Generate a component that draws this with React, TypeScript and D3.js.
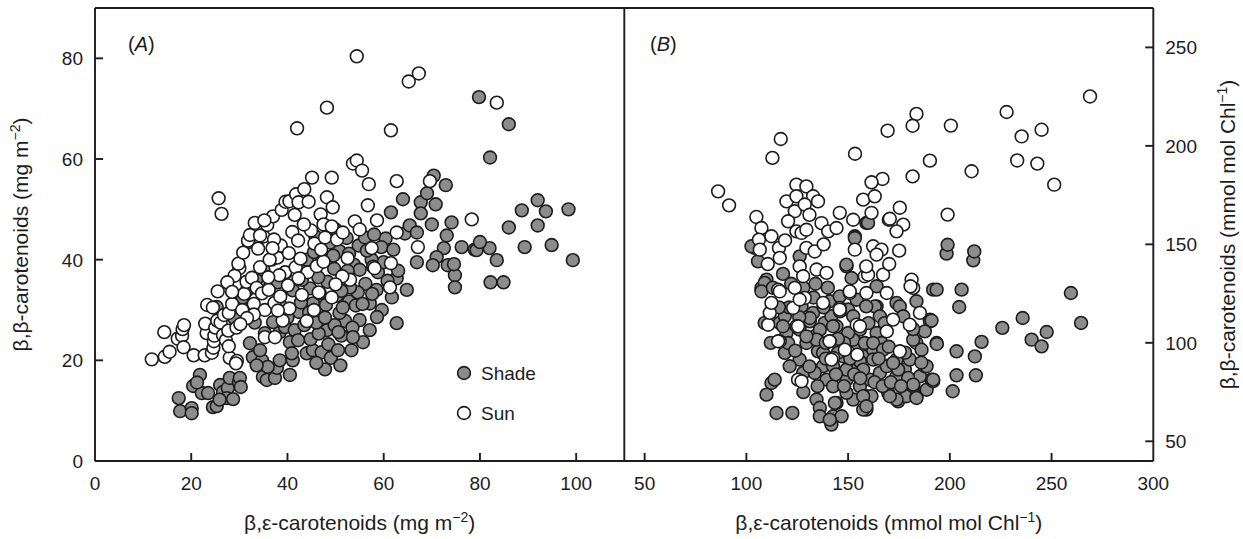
import React from "react";
import * as d3 from "d3";

// ---------- DATA ----------
// Panel A: mg m-2
const shadeA: [number, number][] = [
  [17.4, 12.5], [17.7, 9.9], [20.1, 10.5], [20.1, 9.5], [21.8, 17.1], [20.4, 14.9], [22.2, 13.5], [23.5, 13.5],
  [24.5, 10.7], [25.3, 10.9], [26.0, 15.1], [26.6, 13.7], [27.6, 14.5], [28.0, 16.5], [27.4, 12.5], [29.9, 15.7],
  [30.1, 16.5], [21.2, 15.6], [25.9, 12.2], [28.7, 12.3], [30.3, 14.7],
  [32.2, 23.4], [32.8, 20.6], [34.7, 20.0], [34.9, 16.7], [35.7, 16.1], [37.4, 16.5], [37.8, 18.5], [35.9, 18.7],
  [33.6, 19.0], [34.3, 22.0], [38.4, 20.0], [40.5, 17.1], [41.1, 20.0], [40.5, 23.6], [40.9, 21.4], [38.4, 25.6],
  [37.0, 27.6], [35.3, 25.4], [39.5, 26.6], [41.5, 26.0], [44.0, 21.4], [45.3, 22.0], [47.1, 21.6], [39.5, 37.3],
  [43.2, 38.5], [41.1, 33.9], [44.7, 34.3], [45.3, 31.3], [46.7, 33.3], [47.1, 29.4], [48.2, 26.0], [32.6, 30.6],
  [31.6, 33.9], [25.3, 30.6], [30.7, 32.5], [33.5, 36.0], [31.9, 43.5], [36.7, 40.0], [36.4, 34.8], [38.5, 31.0],
  [42.4, 29.6], [43.5, 27.0], [44.8, 24.2], [46.5, 25.3], [48.5, 23.2], [49.0, 20.5], [50.5, 22.0], [51.2, 24.9],
  [52.0, 27.8], [50.8, 29.4], [52.8, 31.7], [50.2, 32.8], [48.3, 35.6], [49.7, 38.2], [51.7, 36.3], [47.0, 40.8],
  [45.8, 44.6], [48.9, 43.4], [50.8, 41.7], [52.3, 44.3], [53.8, 39.0], [54.8, 42.8], [56.1, 44.4], [55.0, 38.0],
  [56.2, 35.2], [54.6, 33.5], [55.0, 28.0], [55.7, 23.6], [57.1, 26.0], [57.1, 31.3], [59.6, 30.0], [58.6, 28.6],
  [62.7, 27.4], [61.7, 32.5], [62.7, 36.3], [60.4, 44.2], [64.4, 45.2], [65.4, 46.8], [66.9, 45.4],
  [70.0, 47.0], [74.1, 47.4], [73.1, 44.8], [76.2, 42.5], [72.5, 42.3], [71.0, 40.5], [66.9, 39.5], [70.2, 38.9],
  [73.3, 38.9], [74.8, 36.9], [74.8, 34.5], [74.6, 39.1], [78.9, 42.0], [64.0, 52.0], [61.5, 49.4], [67.7, 51.4],
  [69.0, 53.2], [70.8, 51.0], [70.4, 56.7], [72.9, 54.8], [67.7, 49.2], [79.8, 72.3], [86.0, 66.9], [82.1, 60.3],
  [88.7, 49.8], [92.0, 51.8], [93.7, 49.6], [98.4, 50.0], [86.0, 46.4], [92.0, 46.8], [89.3, 42.5], [94.9, 42.9],
  [83.5, 39.9], [99.3, 39.9], [82.0, 42.3], [79.3, 41.9], [80.0, 43.5], [82.2, 35.5], [84.9, 35.5], [57.5, 40.0],
  [58.8, 37.5], [60.0, 39.5], [58.5, 34.0], [53.0, 34.5], [53.3, 22.0], [51.0, 19.0], [47.8, 18.2], [46.0, 27.5],
  [44.0, 40.0], [46.4, 36.5], [52.8, 41.2], [57.8, 38.6], [63.0, 37.8], [64.8, 34.0], [60.8, 35.8], [59.5, 42.5],
  [58.0, 45.0], [62.0, 42.0], [51.5, 30.5], [53.5, 26.5], [49.8, 27.0], [33.2, 27.5], [29.0, 28.3], [42.2, 24.0],
  [46.0, 19.5], [54.2, 30.9], [56.5, 41.8], [48.0, 31.0], [43.0, 36.0], [38.0, 35.5], [35.0, 38.0], [50.0, 46.0],
  [44.5, 29.5], [47.8, 28.5], [50.6, 25.6], [42.8, 31.5], [52.5, 37.8], [55.6, 31.2], [57.6, 33.2], [49.5, 40.8],
  [51.2, 33.8], [45.5, 41.5], [53.6, 24.6], [40.0, 28.5],
];

const sunA: [number, number][] = [
  [11.8, 20.2], [14.5, 20.7], [15.5, 21.7], [14.4, 25.6], [17.2, 24.3], [18.1, 24.9], [18.2, 26.2], [18.5, 27.0],
  [18.4, 22.6], [20.5, 21.0], [22.8, 21.0], [23.2, 25.4], [22.9, 27.3], [23.3, 31.0], [24.3, 21.5], [24.6, 22.5],
  [24.7, 23.8], [24.8, 24.9], [25.0, 26.5], [25.4, 27.9], [26.1, 27.5], [26.6, 25.0], [26.8, 29.0], [27.2, 24.0],
  [27.7, 25.9], [27.8, 29.4], [28.0, 20.5], [28.5, 31.2], [29.5, 19.9], [29.4, 26.5], [30.0, 38.3], [30.6, 30.0],
  [31.0, 33.2], [31.5, 35.6], [32.6, 36.4], [33.0, 31.2], [33.6, 34.4], [34.3, 38.5], [34.7, 33.3], [35.3, 30.0],
  [36.1, 34.0], [35.3, 24.6], [37.4, 24.6], [37.3, 31.4], [37.9, 40.4], [38.6, 42.8], [29.0, 36.8], [29.8, 39.2],
  [30.8, 41.4], [31.8, 43.8], [32.2, 44.9], [33.2, 47.3], [33.9, 42.2], [35.0, 44.6], [35.8, 46.9], [36.3, 40.0],
  [37.0, 48.6], [37.2, 44.0], [38.8, 49.9], [39.6, 51.5], [40.4, 51.6], [25.7, 52.2], [26.3, 49.1], [41.5, 48.9],
  [41.8, 53.0], [42.3, 51.4], [43.5, 54.0], [44.4, 51.5], [45.1, 56.3], [44.9, 45.8], [41.0, 45.5], [42.2, 43.8],
  [43.4, 47.0], [40.3, 41.3], [39.5, 37.5], [41.7, 38.5], [42.7, 40.2], [44.2, 37.5], [46.1, 38.7], [45.6, 43.2],
  [47.5, 39.6], [46.9, 49.0], [47.5, 47.0], [48.2, 52.4], [49.2, 56.3], [49.4, 50.4], [49.2, 46.6], [47.8, 44.4],
  [50.3, 44.0], [51.5, 45.4], [52.5, 40.3], [53.6, 59.1], [54.4, 59.7], [55.5, 57.7], [54.0, 47.6], [55.0, 46.0],
  [56.7, 50.8], [56.9, 55.0], [58.6, 47.8], [57.5, 42.3], [58.1, 38.3], [53.0, 36.0], [51.4, 36.7], [50.0, 35.1],
  [49.2, 32.5], [46.5, 33.5], [45.5, 30.0], [44.0, 27.8], [40.4, 30.3], [38.5, 32.7], [62.7, 55.6], [62.7, 45.4],
  [61.5, 39.3], [61.3, 34.5], [67.1, 42.5], [69.6, 55.6], [78.3, 48.0], [54.4, 80.4], [65.2, 75.4], [67.3, 77.0],
  [48.2, 70.2], [42.0, 66.1], [83.5, 71.2], [61.5, 65.7], [34.3, 44.8], [35.2, 47.8], [36.9, 42.3], [38.3, 36.9],
  [40.1, 34.9], [43.0, 33.0], [42.3, 36.3], [39.0, 27.9], [38.0, 29.9], [33.0, 29.1], [31.6, 28.4], [30.2, 27.2],
  [29.3, 19.4], [27.8, 22.8], [24.5, 30.5], [25.5, 33.7], [27.5, 35.5], [28.5, 33.6], [36.0, 36.5], [47.0, 42.0],
];

// Panel B: mmol mol Chl-1
const shadeB: [number, number][] = [
  [105.7, 141.4], [104.1, 148.2], [109.9, 132.1], [107.4, 127.9], [109.0, 110.1], [116.4, 110.1], [118.9, 113.5],
  [119.7, 105.0], [126.2, 91.5], [133.6, 103.3], [135.2, 95.7], [129.5, 99.9], [138.5, 110.1], [141.8, 113.5],
  [137.7, 88.1], [139.4, 81.3], [134.5, 71.2], [136.1, 67.0], [142.6, 62.7], [144.3, 69.5], [146.8, 62.7],
  [141.8, 58.5], [152.5, 71.2], [155.8, 77.9], [149.2, 81.3], [154.2, 86.4], [147.6, 93.1], [144.3, 108.4],
  [149.2, 138.8], [151.7, 132.9], [153.3, 154.1], [159.0, 160.9], [112.3, 79.6], [109.9, 73.7], [114.8, 64.4],
  [122.6, 64.4], [113.9, 81.3], [127.1, 118.5], [132.8, 115.2], [118.9, 94.9], [121.3, 88.1], [127.9, 84.7],
  [133.6, 84.7], [126.2, 106.7], [131.2, 110.9], [141.0, 121.1], [145.9, 123.6], [150.0, 116.9], [154.2, 99.9],
  [157.4, 93.1], [155.8, 106.7], [159.0, 72.9], [159.0, 66.1], [109.0, 130.4], [107.4, 126.1], [136.1, 62.7],
  [141.0, 61.0], [143.5, 69.5], [142.6, 77.9], [149.2, 74.6], [157.4, 66.1], [161.5, 72.9], [160.7, 81.3],
  [165.6, 84.7], [169.7, 74.6], [174.6, 70.3], [178.7, 72.9], [182.0, 77.9], [183.6, 72.9], [188.6, 76.2],
  [191.0, 81.3], [185.3, 83.0], [187.7, 88.1], [177.9, 86.4], [173.8, 83.0], [169.0, 88.1], [173.8, 91.5],
  [180.3, 91.5], [183.6, 99.9], [190.2, 111.8], [191.8, 127.0], [183.6, 121.1], [173.8, 120.3], [164.0, 118.5],
  [164.0, 128.7], [154.2, 121.9], [152.5, 113.5], [164.0, 105.0], [162.3, 96.5], [166.4, 99.9], [142.6, 108.4],
  [136.1, 106.7], [131.2, 112.6], [134.5, 101.6], [142.6, 88.1], [137.7, 94.9], [149.2, 86.4], [155.8, 90.6],
  [152.5, 101.6], [158.2, 99.9], [118.0, 108.4], [120.5, 99.9], [129.5, 103.3], [198.4, 145.3], [211.5, 141.9],
  [193.5, 127.0], [205.8, 127.0], [204.6, 118.2], [225.8, 107.6], [235.8, 112.6], [247.6, 105.5], [240.2, 101.6],
  [245.1, 98.2], [215.6, 100.5], [203.3, 95.7], [212.3, 93.1], [203.3, 83.5], [212.8, 83.5], [201.4, 75.4],
  [190.2, 110.9], [187.7, 105.8], [182.0, 101.6], [193.5, 99.9], [186.1, 96.5], [188.6, 88.1], [191.8, 80.5],
  [183.6, 72.0], [173.8, 71.2], [170.5, 72.9], [174.6, 86.4], [179.5, 82.2], [182.0, 78.8], [175.4, 118.5],
  [182.0, 107.0], [177.1, 113.5], [163.1, 118.5], [158.9, 118.5], [165.6, 113.5], [159.8, 160.9], [162.3, 99.9],
  [167.2, 96.5], [172.1, 89.8], [162.3, 91.5], [157.4, 86.4], [157.4, 72.9], [159.0, 67.8], [259.5, 125.3],
  [264.5, 110.1], [193.6, 99.4], [191.0, 111.3], [191.8, 81.3], [198.9, 149.8], [212.0, 146.4], [153.3, 153.2],
  [149.2, 139.7], [102.5, 149.0], [126.2, 143.9], [118.0, 135.0], [122.0, 130.0], [113.0, 128.0], [128.0, 128.0],
  [134.0, 130.0], [140.0, 128.0], [145.0, 95.0], [150.0, 105.0], [139.0, 100.0], [146.0, 116.0], [124.0, 96.0],
  [128.0, 75.0], [131.0, 88.0], [135.0, 78.0], [139.0, 92.0], [144.0, 84.0], [148.0, 78.0], [151.0, 92.0],
  [153.0, 84.0], [156.0, 82.0], [163.0, 80.0], [167.0, 78.0], [171.0, 80.0], [176.0, 78.0], [178.0, 95.0],
  [170.0, 98.0], [165.0, 92.0], [148.0, 100.0], [145.0, 102.0], [138.0, 118.0], [133.0, 123.0], [126.0, 113.0],
  [121.0, 118.0], [116.0, 118.0], [112.0, 100.0], [160.0, 110.0], [168.0, 110.0], [186.0, 90.0],
];

const sunB: [number, number][] = [
  [86.1, 176.9], [91.5, 169.8], [116.9, 203.5], [112.8, 193.9], [153.4, 196.0], [169.4, 207.7], [183.6, 216.2],
  [181.7, 210.2], [190.2, 192.5], [181.7, 184.5], [166.9, 183.2], [161.5, 181.5], [104.9, 163.9], [175.4, 168.6],
  [170.0, 162.5], [268.9, 225.1], [227.9, 217.2], [200.5, 210.3], [235.3, 204.8], [245.1, 208.2], [233.1, 192.6],
  [243.0, 191.0], [210.7, 187.1], [251.3, 180.3], [198.9, 165.1], [107.4, 158.3], [106.2, 152.4], [106.6, 147.3],
  [116.0, 148.2], [116.4, 143.1], [112.3, 154.1], [119.7, 171.8], [124.6, 180.3], [129.5, 179.4], [124.6, 174.4],
  [132.8, 174.4], [123.8, 166.8], [128.7, 170.2], [120.5, 161.7], [124.6, 156.6], [127.1, 155.8], [129.5, 148.2],
  [133.6, 146.4], [126.2, 138.8], [127.9, 133.8], [134.5, 137.2], [139.4, 135.5], [136.9, 160.8], [140.2, 156.6],
  [144.3, 158.3], [145.9, 166.0], [152.5, 162.5], [157.4, 172.7], [153.3, 147.3], [158.2, 133.8], [150.8, 125.3],
  [145.9, 117.7], [154.2, 109.2], [148.4, 96.5], [142.6, 92.3], [141.0, 100.8], [124.6, 108.4], [116.4, 100.8],
  [110.7, 109.2], [111.5, 115.2], [112.3, 120.3], [115.6, 127.0], [123.8, 127.9], [123.0, 117.7], [128.7, 122.8],
  [137.7, 120.3], [125.4, 81.3], [129.5, 157.4], [135.2, 171.8], [116.4, 126.1], [115.6, 100.8], [126.2, 122.0],
  [125.4, 108.4], [145.9, 116.9], [140.9, 100.8], [141.8, 91.5], [150.8, 126.1], [159.0, 125.3], [155.8, 108.4],
  [154.5, 94.0], [169.0, 105.8], [175.4, 95.7], [169.0, 125.3], [172.1, 111.8], [182.0, 127.9], [185.3, 115.2],
  [159.8, 134.6], [167.2, 134.6], [127.1, 80.5], [163.1, 174.4], [161.5, 166.0], [170.5, 163.0], [177.1, 160.0],
  [173.8, 156.6], [175.1, 146.8], [162.3, 149.0], [166.4, 147.3], [164.0, 144.8], [170.2, 140.0], [158.9, 138.8],
  [181.2, 132.1], [180.7, 128.7], [180.3, 109.2], [110.5, 140.0], [119.0, 152.0], [131.0, 165.0], [138.0, 150.0],
];

// Axis ticks
const xTicksA = [0, 20, 40, 60, 80, 100];
const yTicksA = [0, 20, 40, 60, 80];
const xTicksB = [50, 100, 150, 200, 250, 300];
const yTicksB = [50, 100, 150, 200, 250];

const seriesNames = ["Shade", "Sun"];

// ---------- STYLE ----------
const W = 1243;
const H = 539;
const FONT = "'Liberation Sans', Arial, Helvetica, sans-serif";
const INK = "#1c1c1c";
const GRAY = "#8c8c8c";
const R = 6.4;
const TICK = 8;

export default function App() {
  const top = 8;
  const bottom = 461;
  const leftA = 95;
  const split = 624.3;
  const rightB = 1153.3;

  const xA = d3.scaleLinear().domain([0, 110]).range([leftA, split]);
  const yA = d3.scaleLinear().domain([0, 90]).range([bottom, top]);
  const xB = d3.scaleLinear().domain([40, 300]).range([split, rightB]);
  const yB = d3.scaleLinear().domain([40, 270]).range([bottom, top]);

  const lw = 1.9;
  const tickFs = 19;
  const titleFs = 21;

  const circles = (
    data: [number, number][],
    xs: d3.ScaleLinear<number, number>,
    ys: d3.ScaleLinear<number, number>,
    fill: string,
    key: string
  ) =>
    data.map((d, i) => (
      <circle key={key + i} cx={xs(d[0])} cy={ys(d[1])} r={R} fill={fill} stroke={INK} strokeWidth={1.6} />
    ));

  return (
    <svg
      width={W}
      height={H}
      viewBox={`0 0 ${W} ${H}`}
      style={{ position: "absolute", left: 0, top: 0, display: "block", background: "#fff" }}
      fontFamily={FONT}
    >
      <rect x={0} y={0} width={W} height={H} fill="#fff" />

      {/* Points */}
      <g>{circles(shadeA, xA, yA, GRAY, "sa")}</g>
      <g>{circles(sunA, xA, yA, "#fff", "ua")}</g>
      <g>{circles(shadeB, xB, yB, GRAY, "sb")}</g>
      <g>{circles(sunB, xB, yB, "#fff", "ub")}</g>

      {/* Frame */}
      <g stroke={INK} strokeWidth={lw} fill="none">
        <line x1={leftA} y1={top} x2={rightB} y2={top} />
        <line x1={leftA} y1={bottom} x2={rightB} y2={bottom} />
        <line x1={leftA} y1={top} x2={leftA} y2={bottom} />
        <line x1={split} y1={top} x2={split} y2={bottom} />
        <line x1={rightB} y1={top} x2={rightB} y2={bottom} />
      </g>

      {/* Ticks */}
      <g stroke={INK} strokeWidth={lw}>
        {xTicksA.filter((t) => t > 0).map((t) => (
          <line key={"xta" + t} x1={xA(t)} x2={xA(t)} y1={bottom} y2={bottom - TICK} />
        ))}
        {yTicksA.filter((t) => t > 0).map((t) => (
          <line key={"yta" + t} x1={leftA} x2={leftA + TICK} y1={yA(t)} y2={yA(t)} />
        ))}
        {xTicksB.filter((t) => t < 300).map((t) => (
          <line key={"xtb" + t} x1={xB(t)} x2={xB(t)} y1={bottom} y2={bottom - TICK} />
        ))}
        {yTicksB.map((t) => (
          <line key={"ytb" + t} x1={rightB} x2={rightB - TICK} y1={yB(t)} y2={yB(t)} />
        ))}
      </g>

      {/* Tick labels */}
      <g fontSize={tickFs} fill={INK}>
        {xTicksA.map((t) => (
          <text key={"xla" + t} x={xA(t)} y={bottom + 29} textAnchor="middle">{t}</text>
        ))}
        {yTicksA.map((t) => (
          <text key={"yla" + t} x={leftA - 12} y={yA(t) + 7} textAnchor="end">{t}</text>
        ))}
        {xTicksB.map((t) => (
          <text key={"xlb" + t} x={xB(t)} y={bottom + 29} textAnchor="middle">{t}</text>
        ))}
        {yTicksB.map((t) => (
          <text key={"ylb" + t} x={rightB + 12} y={yB(t) + 7} textAnchor="start">{t}</text>
        ))}
      </g>

      {/* Panel letters */}
      <g fontSize={20} fill={INK}>
        <text x={128} y={51}>(<tspan fontStyle="italic">A</tspan>)</text>
        <text x={650} y={51}>(<tspan fontStyle="italic">B</tspan>)</text>
      </g>

      {/* Axis titles */}
      <g fontSize={titleFs} fill={INK}>
        <text x={(leftA + split) / 2} y={530} textAnchor="middle">
          β,ε-carotenoids (mg m<tspan dy={-8} fontSize={14}>−2</tspan><tspan dy={8}>)</tspan>
        </text>
        <text x={(split + rightB) / 2} y={530} textAnchor="middle">
          β,ε-carotenoids (mmol mol Chl<tspan dy={-8} fontSize={14}>−1</tspan><tspan dy={8}>)</tspan>
        </text>
        <text transform={`translate(28, ${(top + bottom) / 2}) rotate(-90)`} textAnchor="middle">
          β,β-carotenoids (mg m<tspan dy={-8} fontSize={14}>−2</tspan><tspan dy={8}>)</tspan>
        </text>
        <text transform={`translate(1235, ${(top + bottom) / 2}) rotate(-90)`} textAnchor="middle">
          β,β-carotenoids (mmol mol Chl<tspan dy={-8} fontSize={14}>−1</tspan><tspan dy={8}>)</tspan>
        </text>
      </g>

      {/* Legend */}
      <g fontSize={19} fill={INK}>
        <circle cx={464} cy={373} r={R} fill={GRAY} stroke={INK} strokeWidth={1.6} />
        <text x={481} y={380}>{seriesNames[0]}</text>
        <circle cx={464} cy={413} r={R} fill="#fff" stroke={INK} strokeWidth={1.6} />
        <text x={481} y={420}>{seriesNames[1]}</text>
      </g>
    </svg>
  );
}
